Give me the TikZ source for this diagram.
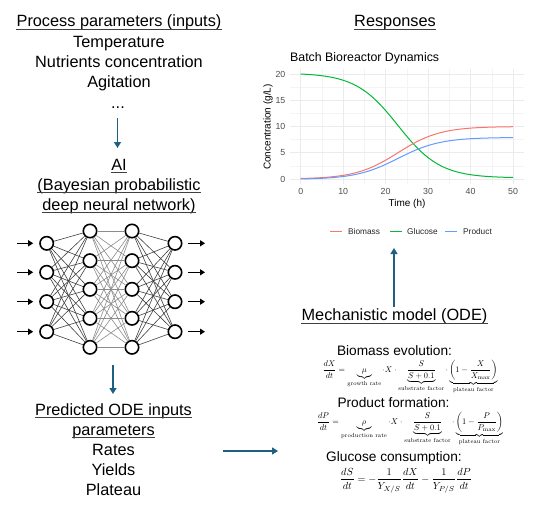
\documentclass[tikz,border=0pt]{standalone}
\usepackage[no-math]{fontspec}
\usepackage{amsmath}
\usepackage{graphicx}
\newfontfamily\mainsans{Liberation Sans}
\usetikzlibrary{arrows.meta}
\definecolor{arr}{RGB}{31,95,127}
\definecolor{cbio}{HTML}{F8766D}
\definecolor{cglu}{HTML}{00BA38}
\definecolor{cpro}{HTML}{619CFF}
\definecolor{gridmaj}{HTML}{EBEBEB}
\definecolor{gridmin}{HTML}{F4F4F4}
\definecolor{axtxt}{HTML}{4D4D4D}
\begin{document}
\begin{tikzpicture}[x=1pt,y=-1pt,
  big/.style={font=\mainsans\fontsize{16.3}{20}\selectfont, inner sep=0pt, anchor=base},
  sub/.style={font=\mainsans\fontsize{13.7}{16}\selectfont, inner sep=0pt, anchor=base},
  flow/.style={arr, line width=1.3pt, -{Triangle[length=6pt,width=7pt]}},
  neuron/.style={circle, draw=black, line width=1.6pt, fill=white, minimum size=13.4pt, inner sep=0pt},
  nnarrow/.style={black, line width=1.2pt, -{Triangle[length=5pt,width=6pt]}},
  e1/.style={black!75, line width=0.6pt},
  e2/.style={black!45, line width=0.6pt},
  tick/.style={font=\mainsans\fontsize{8.8}{10}\selectfont, text=axtxt, inner sep=0pt},
  ul/.style={black!75, line width=1.1pt},
  eqn/.style={inner sep=0pt}
]
\useasboundingbox (0,0) rectangle (537,508);
\fill[white] (0,0) rectangle (537,508);

% ---------- left column ----------
\node[big] (proc) at (119,26.7) {Process parameters (inputs)};
\node[big] (temp) at (119,47.7) {Temperature};
\node[big] (nutr) at (119,67.7) {Nutrients concentration};
\node[big] (agit) at (119,87.7) {Agitation};
\node[big] (dots) at (118,108) {...};
\node[big] (ai) at (119,170) {AI};
\node[big] (bay) at (119,190) {(Bayesian probabilistic};
\node[big] (dnn) at (119,210) {deep neural network)};

\coordinate (a1s) at (117.5,118);
\coordinate (a1e) at (117.5,148);
\draw[flow] (a1s) -- (a1e);

% ---------- neural network ----------
\foreach \i/\y in {1/243.3,2/272.3,3/301.7,4/331.7}{
  \node[neuron] (i\i) at (46.7,\y) {};
  \node[neuron] (o\i) at (175,\y) {};
  \coordinate (ia\i) at (17,\y);
  \coordinate (oa\i) at (205,\y);
}
\foreach \j/\y in {1/231,2/260.7,3/289.3,4/318.3,5/347.3}{
  \node[neuron] (h\j) at (90,\y) {};
  \node[neuron] (g\j) at (132,\y) {};
}
\foreach \i in {1,...,4}{
  \foreach \j in {1,...,5}{
    \draw[e1] (i\i) -- (h\j);
    \draw[e1] (g\j) -- (o\i);
  }
}
\foreach \i in {1,...,5}{
  \foreach \j in {1,...,5}{
    \draw[e2] (h\i) -- (g\j);
  }
}
\foreach \i in {1,...,4}{
  \draw[nnarrow, shorten >=6pt] (ia\i) -- (i\i);
  \draw[nnarrow, shorten <=5pt] (o\i) -- (oa\i);
}

\coordinate (a2s) at (113,365);
\coordinate (a2e) at (113,394);
\draw[flow] (a2s) -- (a2e);

\node[big] (pred) at (113.5,415) {Predicted ODE inputs};
\node[big] (parm) at (113.5,435) {parameters};
\node[big] (rate) at (113.5,455) {Rates};
\node[big] (yld) at (113.5,475) {Yields};
\node[big] (plat) at (113.5,495) {Plateau};

\coordinate (a3s) at (223,451);
\coordinate (a3e) at (278,451);
\draw[flow] (a3s) -- (a3e);

% ---------- right column ----------
\node[big] (resp) at (395,26.7) {Responses};

% underlines
\foreach \n in {proc,ai,bay,dnn,pred,parm,resp}{
  \draw[ul] ([yshift=-2.6pt]\n.base west) -- ([yshift=-2.6pt]\n.base east);
}

% plot
% minor grid
\foreach \t in {5,15,25,35,45}{
  \draw[gridmin, line width=0.5pt] ({300.7+4.246*\t},68.8) -- ({300.7+4.246*\t},184);
}
\foreach \v in {2.5,7.5,12.5,17.5}{
  \draw[gridmin, line width=0.5pt] (290,{179-5.25*\v}) -- (523.6,{179-5.25*\v});
}
% major grid
\foreach \t in {0,10,20,30,40,50}{
  \draw[gridmaj, line width=0.9pt] ({300.7+4.246*\t},68.8) -- ({300.7+4.246*\t},184);
  \node[tick, anchor=base] (xt\t) at ({300.7+4.246*\t},194.5) {\t};
}
\foreach \v in {0,5,10,15,20}{
  \draw[gridmaj, line width=0.9pt] (290,{179-5.25*\v}) -- (523.6,{179-5.25*\v});
  \node[tick, anchor=east] (yt\v) at (285.5,{179-5.25*\v}) {\v};
}
% curves
\draw[cglu, line width=1pt] plot[domain=0:50, samples=80, smooth]
  ({300.7+4.246*\x},{179-5.25*(20.2-2*(10/(1+exp(-0.201*(\x-22.9)))))});
\draw[cbio, line width=1pt] plot[domain=0:50, samples=80, smooth]
  ({300.7+4.246*\x},{179-5.25*(10/(1+exp(-0.201*(\x-22.9))))});
\draw[cpro, line width=1pt] plot[domain=0:50, samples=80, smooth]
  ({300.7+4.246*\x},{179-5.25*(8/(1+exp(-0.201*(\x-22.9)))-0.08)});

\node[font=\mainsans\fontsize{12.35}{14}\selectfont, anchor=base west, inner sep=0pt] (ptitle) at (290,62) {Batch Bioreactor Dynamics};
\node[font=\mainsans\fontsize{10}{12}\selectfont, anchor=base, inner sep=0pt] (xlab) at (407,206) {Time (h)};
\node[font=\mainsans\fontsize{10}{12}\selectfont, rotate=90, inner sep=0pt] (ylab) at (268,127) {Concentration (g/L)};

% legend
\coordinate (lb1) at (330,231.5); \coordinate (lb2) at (342,231.5);
\coordinate (lg1) at (390,231.5); \coordinate (lg2) at (402,231.5);
\coordinate (lp1) at (445,231.5); \coordinate (lp2) at (457,231.5);
\draw[cbio, line width=1pt] (lb1) -- (lb2);
\draw[cglu, line width=1pt] (lg1) -- (lg2);
\draw[cpro, line width=1pt] (lp1) -- (lp2);
\node[font=\mainsans\fontsize{8.3}{10}\selectfont, anchor=base west, inner sep=0pt, text=black!85] (lbt) at (348,234.5) {Biomass};
\node[font=\mainsans\fontsize{8.3}{10}\selectfont, anchor=base west, inner sep=0pt, text=black!85] (lgt) at (407,234.5) {Glucose};
\node[font=\mainsans\fontsize{8.3}{10}\selectfont, anchor=base west, inner sep=0pt, text=black!85] (lpt) at (463,234.5) {Product};

\coordinate (a4s) at (394,307);
\coordinate (a4e) at (394,248);
\draw[flow] (a4s) -- (a4e);

\node[big] (mech) at (394.5,320.7) {Mechanistic model (ODE)};
\draw[ul] ([yshift=-2.6pt]mech.base west) -- ([yshift=-2.6pt]mech.base east);
\node[sub] (bioh) at (394.5,355) {Biomass evolution:};
\node[eqn] (eq1) at (410,377) {\resizebox{175pt}{!}{$\displaystyle \frac{dX}{dt} = \underbrace{\mu}_{\text{growth rate}} \cdot X \cdot \underbrace{\frac{S}{S+0.1}}_{\text{substrate factor}} \cdot \underbrace{\left(1-\frac{X}{X_{\max}}\right)}_{\text{plateau factor}}$}};
\node[sub] (proh) at (393.5,407) {Product formation:};
\node[eqn] (eq2) at (410,429) {\resizebox{186pt}{!}{$\displaystyle \frac{dP}{dt} = \underbrace{\rho}_{\text{production rate}} \cdot X \cdot \underbrace{\frac{S}{S+0.1}}_{\text{substrate factor}} \cdot \underbrace{\left(1-\frac{P}{P_{\max}}\right)}_{\text{plateau factor}}$}};
\node[sub] (gluh) at (394,461.7) {Glucose consumption:};
\node[eqn] (eq3) at (406,480.5) {\resizebox{132pt}{!}{$\displaystyle \frac{dS}{dt} = -\frac{1}{Y_{X/S}}\frac{dX}{dt} - \frac{1}{Y_{P/S}}\frac{dP}{dt}$}};
\end{tikzpicture}
\end{document}
